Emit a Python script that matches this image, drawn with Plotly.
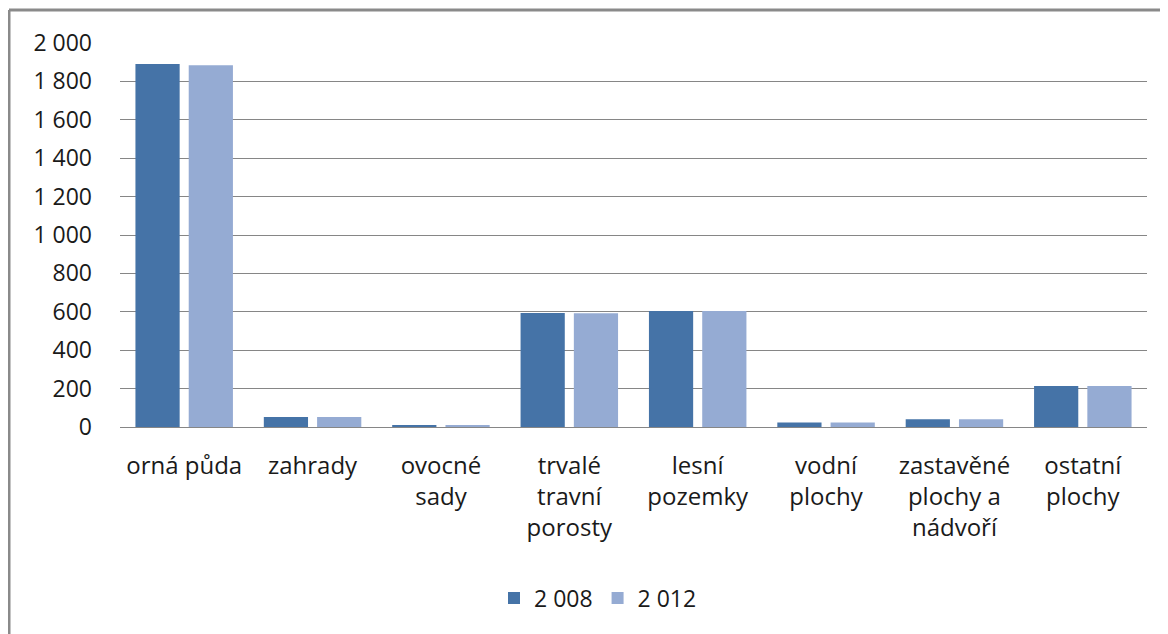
import plotly.graph_objects as go

categories = ["orná půda", "zahrady", "ovocné<br>sady", "trvalé<br>travní<br>porosty",
              "lesní<br>pozemky", "vodní<br>plochy", "zastavěné<br>plochy a<br>nádvoří",
              "ostatní<br>plochy"]
values_2008 = [1891, 52, 10, 594, 604, 24, 40, 213]
values_2012 = [1884, 52, 9, 592, 604, 24, 40, 213]
series_names = ["2 008", "2 012"]
y_ticks = [0, 200, 400, 600, 800, 1000, 1200, 1400, 1600, 1800, 2000]

font_family = "'Open Sans', Lato, sans-serif"

fig = go.Figure()
fig.add_trace(go.Bar(x=categories, y=values_2008, name=series_names[0],
                     marker=dict(color="#4573A7", line=dict(width=0))))
fig.add_trace(go.Bar(x=categories, y=values_2012, name=series_names[1],
                     marker=dict(color="#95ABD3", line=dict(width=0))))

# page is offset by 8px body margin
OFF = 8
W, H = 1160, 626
L, R, T, B = 120 - OFF, 21, 43 - OFF, 207
pw, ph = W - L - R, H - T - B

def px(x):
    return (x - OFF - L) / pw

def py(y):
    return (H - B - (y - OFF)) / ph

fig.update_layout(
    width=W, height=H,
    margin=dict(l=L, r=R, t=T, b=B, autoexpand=False),
    paper_bgcolor="white", plot_bgcolor="white",
    barmode="group", bargap=0.17, bargroupgap=0.17,
    separators=", ",
    font=dict(family=font_family, size=24, color="#1a1a1a"),
    legend=dict(orientation="h", x=px(598), xanchor="center", y=py(598), yanchor="middle",
                font=dict(size=23), itemwidth=30, traceorder="normal"),
    xaxis=dict(showgrid=False, showline=False, ticks="", tickfont=dict(size=24),
               ticklabelstandoff=22),
    yaxis=dict(range=[0, 2000], tickvals=y_ticks, tickformat=",d", showgrid=True,
               gridcolor="#868686", gridwidth=1, zeroline=True, zerolinecolor="#868686",
               zerolinewidth=1, showline=False, ticks="", tickfont=dict(size=23),
               ticklabelstandoff=27),
    shapes=[
        dict(type="line", xref="paper", yref="paper", x0=px(9), x1=px(1175),
             y0=py(10), y1=py(10), line=dict(color="#8a8a8a", width=3)),
        dict(type="line", xref="paper", yref="paper", x0=px(9), x1=px(9),
             y0=py(10), y1=py(640), line=dict(color="#8a8a8a", width=3)),
    ],
)

fig.write_html("out.html")
